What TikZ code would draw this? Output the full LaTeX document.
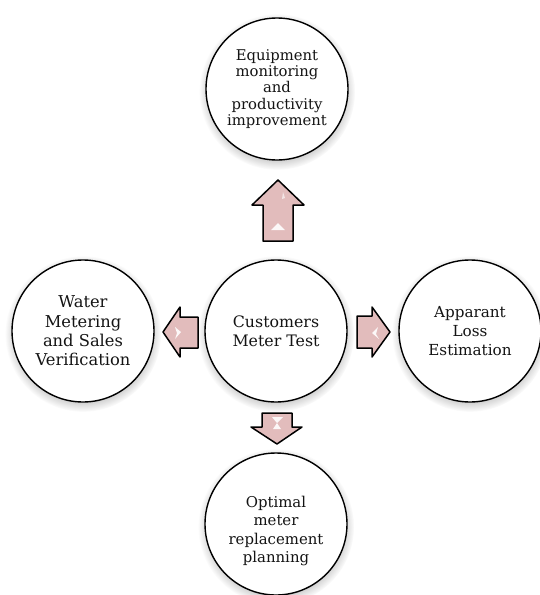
\documentclass[tikz,border=0pt]{standalone}
\usepackage{fontspec}
\setmainfont{DejaVu Serif}
\usetikzlibrary{shadows}
\begin{document}
\begin{tikzpicture}[x=1pt,y=-1pt,
  ring/.style={circle,draw=black,line width=1.4pt,fill=white,minimum size=142pt,
    inner sep=0pt,align=center,
    circular drop shadow={shadow xshift=0pt,shadow yshift=-2.5pt,opacity=0.35,fill=black!60}},
  caption/.style={align=center,inner sep=0pt,text=black!92},
  blockarrow/.style={draw=black,line width=1.5pt,line join=round,
    fill={rgb,255:red,226;green,188;blue,188}},
  gleam/.style={fill=white,draw=none,opacity=0.9}]
  \useasboundingbox (0,0) rectangle (540,595);

  % the five circles
  \node[ring,text=black!92,font=\fontsize{15.8}{19.5}\selectfont] (hub) at (276,331)
    {Customers\\Meter Test};
  \node[ring,text=black!92,font=\fontsize{14.8}{16.4}\selectfont] (up) at (277,89)
    {Equipment\\monitoring\\and\\productivity\\improvement};
  \node[ring,text=black!92,font=\fontsize{16.3}{19.3}\selectfont] (west) at (83,331)
    {Water\\Metering\\and Sales\\Verification};
  \node[ring,text=black!92,font=\fontsize{15.2}{18.7}\selectfont] (east) at (470,331)
    {Apparant\\Loss\\Estimation};
  \node[ring] (down) at (276,524) {};
  \node[caption,font=\fontsize{14.9}{18.6}\selectfont] (downtext) at (276,531)
    {Optimal\\meter\\replacement\\planning};

  % block arrows from the hub outwards
  \draw[blockarrow] (278,180) -- (304,205) -- (293,205) -- (293,241) -- (263,241)
    -- (263,205) -- (252,205) -- cycle;
  \fill[gleam] (278,223) -- (285,230) -- (271,230) -- cycle;
  \fill[gleam,opacity=0.6] (283,192) -- (285,198) -- (282,199) -- cycle;

  \draw[blockarrow] (390,332) -- (372,357) -- (372,348) -- (357,348) -- (357,316)
    -- (372,316) -- (372,307) -- cycle;
  \fill[gleam] (372,333) -- (378,327) -- (376,334) -- (379,339) -- cycle;

  \draw[blockarrow] (163,332) -- (180,307) -- (180,317) -- (198,317) -- (198,348)
    -- (180,348) -- (180,357) -- cycle;
  \fill[gleam] (181,332) -- (175,327) -- (177,333) -- (175,339) -- cycle;

  \draw[blockarrow] (277,444) -- (251,427) -- (262,427) -- (262,413) -- (292,413)
    -- (292,427) -- (302,427) -- cycle;
  \fill[gleam] (272,417) -- (283,417) -- (277,423) -- (281,429) -- (273,429) -- (277,423) -- cycle;
\end{tikzpicture}
\end{document}
